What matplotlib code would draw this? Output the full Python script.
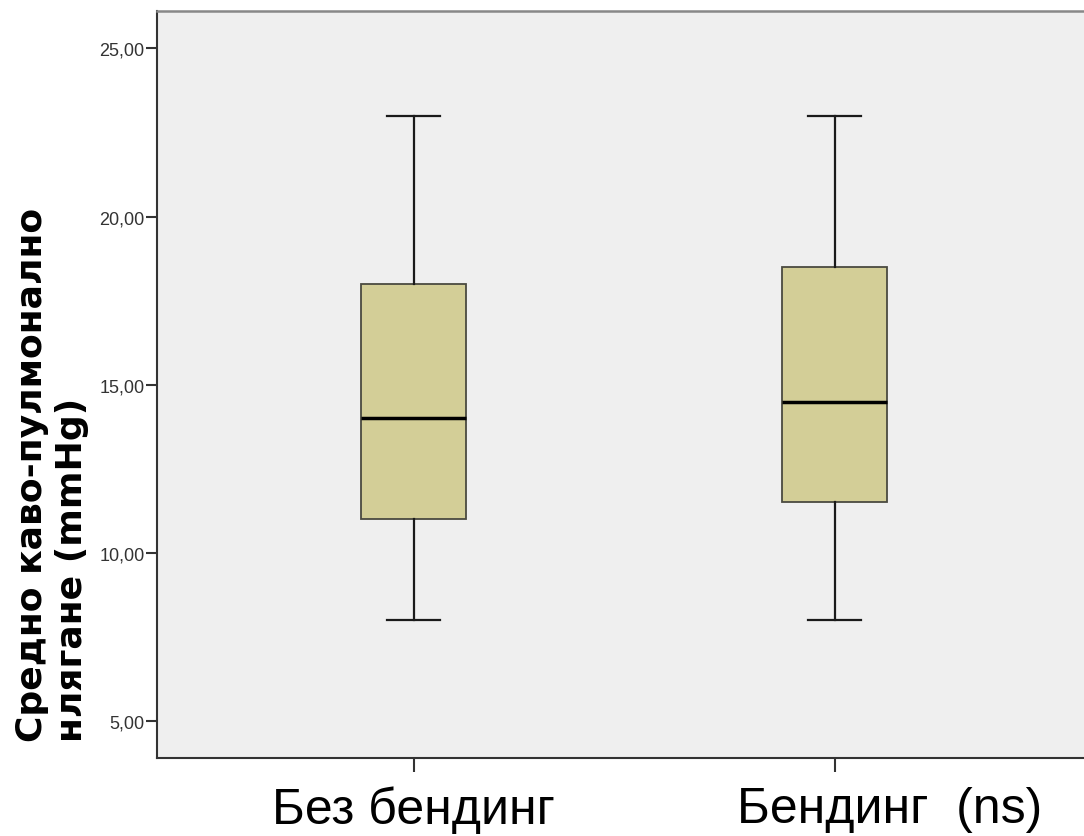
import matplotlib.pyplot as plt
from matplotlib.transforms import ScaledTranslation

# групи и петчислено резюме за всяка група
grupi = ['Без бендинг', 'Бендинг  (ns)']
minimumi = [8.0, 8.0]
q1 = [11.0, 11.5]
medijani = [14.0, 14.5]
q3 = [18.0, 18.5]
maksimumi = [23.0, 23.0]
y_tikove = [5, 10, 15, 20, 25]

plt.rcParams['font.family'] = ['Liberation Sans', 'DejaVu Sans']

fig = plt.figure(figsize=(10.84, 8.37), dpi=100)
ax = fig.add_axes([0.1448, 0.0932, 0.8552, 0.8925])
ax.set_facecolor('#efefef')

stats = []
for i, g in enumerate(grupi):
    stats.append({'label': g, 'whislo': minimumi[i], 'q1': q1[i], 'med': medijani[i],
                  'q3': q3[i], 'whishi': maksimumi[i], 'fliers': []})

pozicii = [1, 2]
ax.bxp(stats, positions=pozicii, widths=0.25, patch_artist=True, showfliers=False,
       boxprops=dict(facecolor='#d3ce97', edgecolor='#4a4a40', linewidth=1.3),
       medianprops=dict(color='black', linewidth=2.5),
       whiskerprops=dict(color='#1a1a1a', linewidth=1.6),
       capprops=dict(color='#1a1a1a', linewidth=1.6),
       capwidths=0.125)

ax.set_xlim(0.39, 2.592)
ax.set_ylim(3.9, 26.115)
ax.set_yticks(y_tikove)
ax.set_yticklabels([f'{v:.2f}'.replace('.', ',') for v in y_tikove],
                   fontsize=13, color='#333333')
ax.set_xticks(pozicii)
ax.set_xticklabels(grupi, fontsize=36, color='black')
ax.tick_params(axis='y', length=8, width=1.5, color='#333333', pad=1)
ax.tick_params(axis='x', length=10, width=1.5, color='#333333', pad=10)

# втория надпис е изместен малко надясно
lbl = ax.get_xticklabels()[1]
lbl.set_transform(lbl.get_transform() + ScaledTranslation(0.55, 0, fig.dpi_scale_trans))

ax.spines['right'].set_visible(False)
ax.spines['top'].set_color('#888888')
ax.spines['top'].set_linewidth(1.8)
for s in ['left', 'bottom']:
    ax.spines[s].set_color('#333333')
    ax.spines[s].set_linewidth(1.5)

fig.text(0.048, 0.113, 'Средно каво-пулмонално\nнлягане (mmHg)', rotation=90,
         ha='center', va='bottom', multialignment='left',
         fontsize=26, fontweight='bold', family='DejaVu Sans', linespacing=1.2)

fig.savefig('out.png', dpi=100)
